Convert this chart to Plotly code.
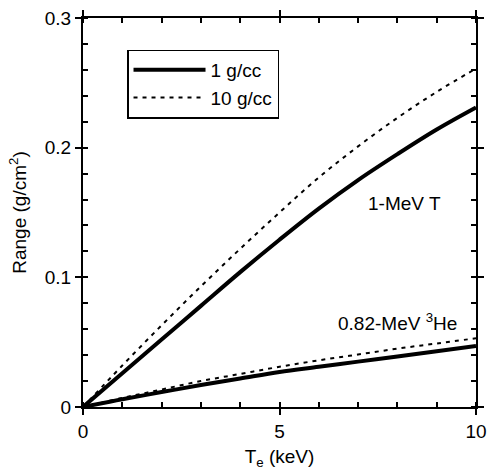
import plotly.graph_objects as go

te = [0, 1, 2, 3, 4, 5, 6, 7, 8, 9, 10]
t_1gcc = [0, 0.026, 0.052, 0.078, 0.104, 0.129, 0.153, 0.175, 0.195, 0.214, 0.231]
t_10gcc = [0, 0.032, 0.063, 0.093, 0.122, 0.150, 0.177, 0.201, 0.223, 0.243, 0.261]
he_1gcc = [0, 0.006, 0.0115, 0.017, 0.022, 0.027, 0.031, 0.035, 0.039, 0.043, 0.047]
he_10gcc = [0, 0.007, 0.0135, 0.020, 0.0255, 0.031, 0.036, 0.0405, 0.045, 0.049, 0.053]

x_ticks = [0, 5, 10]
y_ticks = [0, 0.1, 0.2, 0.3]
y_ticklabels = ["0", "0.1", "0.2", "0.3"]

FONT = "Liberation Sans, Arial, sans-serif"
FS = 19
solid = dict(color="black", width=4)
dotted = dict(color="black", width=2, dash="4px,5px")

fig = go.Figure()
fig.add_trace(go.Scatter(x=te, y=t_1gcc, mode="lines", line=solid, name="1 g/cc", line_shape="spline"))
fig.add_trace(go.Scatter(x=te, y=t_10gcc, mode="lines", line=dotted, name="10 g/cc", line_shape="spline"))
fig.add_trace(go.Scatter(x=te, y=he_1gcc, mode="lines", line=solid, showlegend=False, line_shape="spline"))
fig.add_trace(go.Scatter(x=te, y=he_10gcc, mode="lines", line=dotted, showlegend=False, line_shape="spline"))

axis_common = dict(showgrid=False, zeroline=False, linecolor="black", linewidth=2,
                   tickcolor="black", tickwidth=2, mirror="ticks", showline=True, automargin=False,
                   tickfont=dict(family=FONT, size=FS, color="black"))

fig.update_layout(
    width=487, height=470,
    margin=dict(l=83, r=11, t=18, b=63),
    paper_bgcolor="white", plot_bgcolor="white",
    font=dict(family=FONT, size=FS, color="black"),
    xaxis=dict(range=[0, 10], tickvals=x_ticks, ticks="outside", ticklen=6,
               minor=dict(ticks="inside", ticklen=5, dtick=1, tickcolor="black", tickwidth=1.5),
               title=dict(text="T<sub>e</sub> (keV)", font=dict(family=FONT, size=FS), standoff=16),
               **axis_common),
    yaxis=dict(range=[0, 0.3], tickvals=y_ticks, ticktext=y_ticklabels, ticks="outside", ticklen=6,
               minor=dict(ticks="inside", ticklen=5, dtick=0.02, tickcolor="black", tickwidth=1.5),
               title=dict(text="Range (g/cm<sup>2</sup>)", font=dict(family=FONT, size=FS), standoff=13),
               **axis_common),
    xaxis2=dict(range=[0, 10], overlaying="x", anchor="y", side="bottom", tickvals=x_ticks,
                ticks="inside", ticklen=6, tickwidth=2, tickcolor="black", showticklabels=False,
                showgrid=False, zeroline=False, showline=False, mirror="ticks", automargin=False),
    yaxis2=dict(range=[0, 0.3], overlaying="y", anchor="x", side="left", tickvals=y_ticks,
                ticks="inside", ticklen=6, tickwidth=2, tickcolor="black", showticklabels=False,
                showgrid=False, zeroline=False, showline=False, mirror="ticks", automargin=False),
    legend=dict(x=0.112, y=0.919, xanchor="left", yanchor="top",
                bordercolor="black", borderwidth=1.5, bgcolor="white",
                font=dict(family=FONT, size=FS), itemwidth=72, tracegroupgap=0),
    annotations=[
        dict(x=7.2, y=0.157, xref="x", yref="y", text="1-MeV T", showarrow=False,
             font=dict(family=FONT, size=FS), xanchor="left", yanchor="middle"),
        dict(x=6.45, y=0.0655, xref="x", yref="y", text="0.82-MeV <sup>3</sup>He", showarrow=False,
             font=dict(family=FONT, size=FS), xanchor="left", yanchor="middle"),
    ],
)

fig.write_html("out.html")
